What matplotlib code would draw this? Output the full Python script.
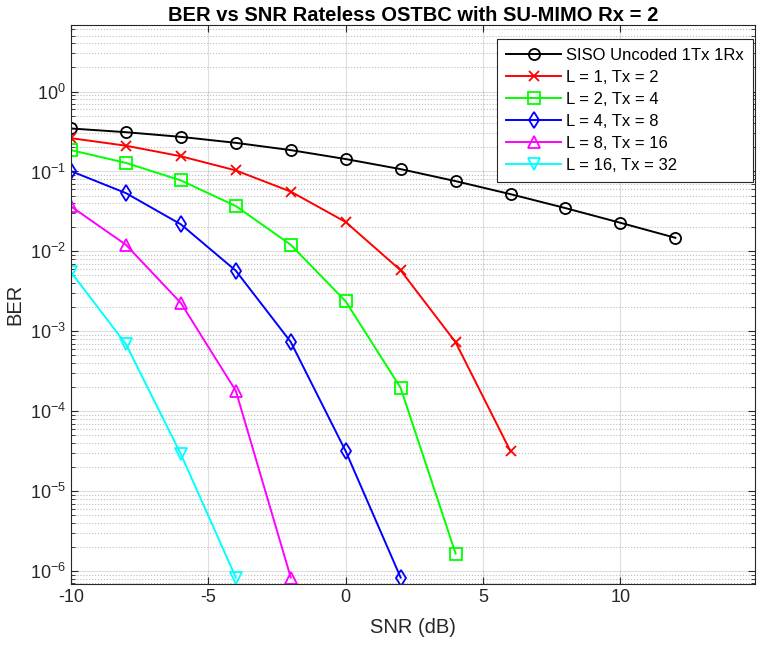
import numpy as np
import matplotlib.pyplot as plt
from matplotlib.ticker import LogLocator, NullFormatter

plt.rcParams['font.family'] = ['Liberation Sans', 'DejaVu Sans']
plt.rcParams['mathtext.fontset'] = 'custom'
plt.rcParams['mathtext.rm'] = 'Liberation Sans'
plt.rcParams['axes.unicode_minus'] = False

# SNR points (dB)
snr_siso = [-10, -8, -6, -4, -2, 0, 2, 4, 6, 8, 10, 12]
snr_l1 = [-10, -8, -6, -4, -2, 0, 2, 4, 6]
snr_l2 = [-10, -8, -6, -4, -2, 0, 2, 4]
snr_l4 = [-10, -8, -6, -4, -2, 0, 2]
snr_l8 = [-10, -8, -6, -4, -2]
snr_l16 = [-10, -8, -6, -4]

# BER values
ber_siso = [0.345, 0.31, 0.271, 0.228, 0.185, 0.143, 0.107, 0.0757, 0.052, 0.0348, 0.0228, 0.0148]
ber_l1 = [0.261, 0.21, 0.155, 0.103, 0.056, 0.0233, 0.0058, 7.3e-4, 3.16e-5]
ber_l2 = [0.185, 0.128, 0.0772, 0.0369, 0.0121, 0.00237, 1.96e-4, 1.66e-6]
ber_l4 = [0.101, 0.0536, 0.0218, 0.00573, 7.36e-4, 3.16e-5, 8.3e-7]
ber_l8 = [0.0365, 0.0121, 0.00226, 1.8e-4, 8.3e-7]
ber_l16 = [0.0055, 6.9e-4, 2.9e-5, 8.3e-7]

xticks = [-10, -5, 0, 5, 10]
labels = ['SISO Uncoded 1Tx 1Rx', 'L = 1, Tx = 2', 'L = 2, Tx = 4',
          'L = 4, Tx = 8', 'L = 8, Tx = 16', 'L = 16, Tx = 32']

series = [(snr_siso, ber_siso, 'k', 'o', 8),
          (snr_l1, ber_l1, (1, 0, 0), 'x', 6.5),
          (snr_l2, ber_l2, (0, 1, 0), 's', 8),
          (snr_l4, ber_l4, (0, 0, 1), 'd', 8),
          (snr_l8, ber_l8, (1, 0, 1), '^', 8),
          (snr_l16, ber_l16, (0, 1, 1), 'v', 8)]

fig = plt.figure(figsize=(7.62, 6.46), dpi=100)
ax = fig.add_axes([0.0932, 0.096, 0.8976, 0.8653])

for (x, y, c, m, ms), lab in zip(series, labels):
    ax.semilogy(x, y, color=c, marker=m, markersize=ms, markerfacecolor='none',
                markeredgewidth=1.3, linewidth=1.4, label=lab)

ax.set_xlim(-10, 14.9)
ax.set_ylim(6.9e-7, 6.8)
ax.set_xticks(xticks)
ax.yaxis.set_major_locator(LogLocator(base=10, numticks=20))
ax.yaxis.set_minor_locator(LogLocator(base=10, subs=np.arange(2, 10), numticks=20))
ax.yaxis.set_minor_formatter(NullFormatter())

gc = '#262626'
ax.grid(True, which='major', color=gc, alpha=0.15, linewidth=0.8)
ax.grid(True, which='minor', axis='y', color=gc, alpha=0.3, linestyle=':', linewidth=0.8)
ax.tick_params(which='both', direction='in', top=True, right=True, colors=gc,
               labelsize=13, labelcolor=gc)
ax.tick_params(which='major', length=5)
ax.tick_params(which='minor', length=3)
for s in ax.spines.values():
    s.set_color(gc)
    s.set_linewidth(0.8)

ax.set_title('BER vs SNR Rateless OSTBC with SU-MIMO Rx = 2', fontsize=14.5,
             fontweight='bold', pad=3)
ax.set_xlabel('SNR (dB)', fontsize=14.5, color=gc, labelpad=9)
ax.set_ylabel('BER', fontsize=14.5, color=gc, labelpad=4)

leg = ax.legend(loc='upper right', bbox_to_anchor=(0.997, 0.975), borderaxespad=0,
                fontsize=12, handlelength=3.3, labelspacing=0.42, fancybox=False,
                framealpha=1, edgecolor=gc, borderpad=0.55, handletextpad=0.3)
leg.get_frame().set_linewidth(0.8)

fig.savefig('out.png', dpi=100)
